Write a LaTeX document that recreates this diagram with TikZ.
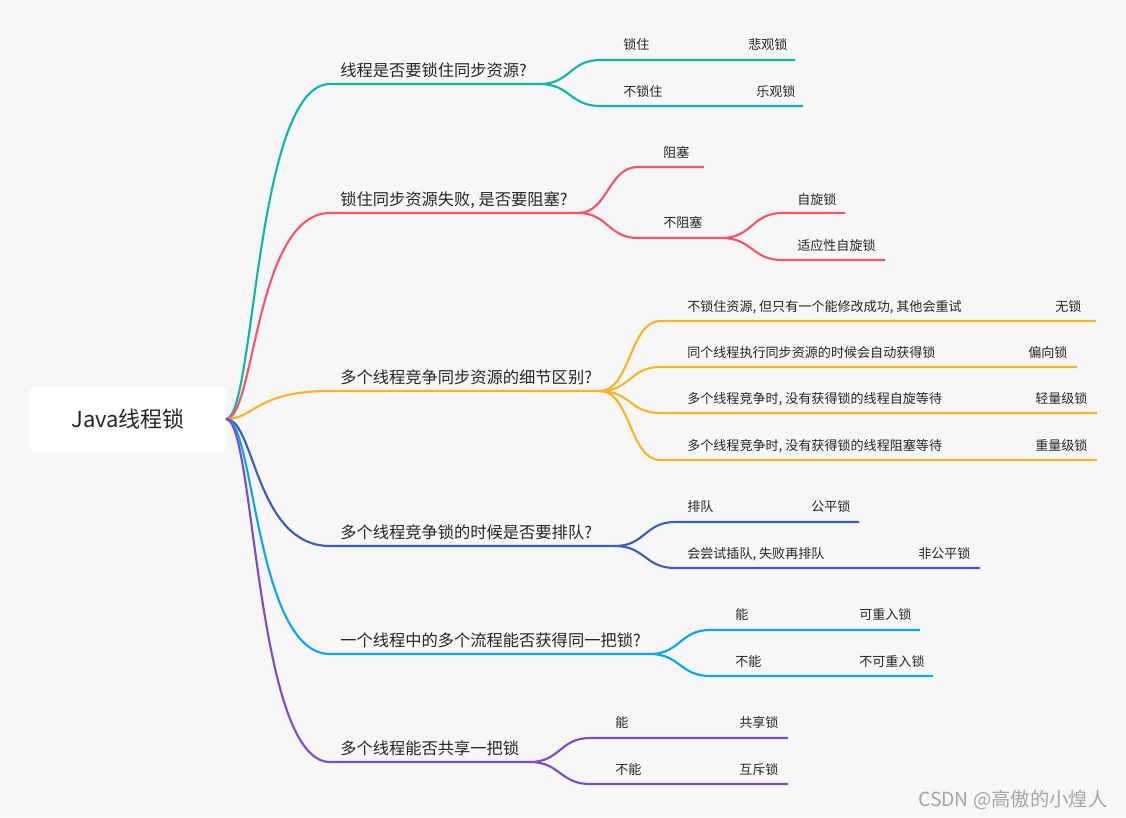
\documentclass[tikz,border=0pt]{standalone}
\usepackage{fontspec}
\setmainfont{Noto Sans CJK SC}
\begin{document}
\begin{tikzpicture}[x=0.75pt,y=-0.75pt,
  br/.style={line width=1.6pt},
  mt/.style={anchor=base west,font=\fontsize{12.2}{14}\selectfont,text=black!85,inner sep=0},
  st/.style={anchor=base west,font=\fontsize{9.8}{11}\selectfont,text=black!85,inner sep=0}]
\definecolor{bg}{HTML}{F7F7F7}
\definecolor{cA}{HTML}{13B5A7}
\definecolor{cB}{HTML}{F2566B}
\definecolor{cC}{HTML}{F8B52A}
\definecolor{cD}{HTML}{3F5CBF}
\definecolor{cE}{HTML}{0AA7EC}
\definecolor{cF}{HTML}{7B4FC8}
\fill[bg] (0,0) rectangle (1126,817);
\useasboundingbox (0,0) rectangle (1126,817);
\node[fill=white,rounded corners=4pt,minimum width=147pt,minimum height=49pt,font=\fontsize{16.5}{18}\selectfont,text=black!85] (root) at (128,419) {Java线程锁};
\coordinate (r) at (226,419);
\newcommand\mainbr[5]{%
  \coordinate (#5s) at (330,#2); \coordinate (#5e) at (#3,#2);
  \draw[br,#1] (r) .. controls (255,419) and (255,#2) .. (#5s) -- (#5e);
  \node[mt] (#5t) at (340,#2-8) {#4};}
\newcommand\subbr[6]{%
  \coordinate (#6a) at (#2,#3); \coordinate (#6b) at (#2+60,#4); \coordinate (#6c) at (#5,#4);
  \draw[br,#1] (#6a) .. controls (#2+30,#3) and (#2+30,#4) .. (#6b) -- (#6c);}
\mainbr{cA}{84}{540}{线程是否要锁住同步资源?}{m1}
\mainbr{cB}{213}{578}{锁住同步资源失败, 是否要阻塞?}{m2}
\mainbr{cC}{391}{600}{多个线程竞争同步资源的细节区别?}{m3}
\mainbr{cD}{546}{615}{多个线程竞争锁的时候是否要排队?}{m4}
\mainbr{cE}{654}{650}{一个线程中的多个流程能否获得同一把锁?}{m5}
\mainbr{cF}{762}{530}{多个线程能否共享一把锁}{m6}
\subbr{cA}{540}{84}{60}{795}{s11}
\subbr{cA}{540}{84}{106}{803}{s12}
\node[st] (t11) at (623,50) {锁住}; \node[st] (u11) at (748,50) {悲观锁};
\node[st] (t12) at (623,96) {不锁住}; \node[st] (u12) at (756,96) {乐观锁};
\subbr{cB}{578}{213}{167}{704}{s21}
\subbr{cB}{578}{213}{238}{722}{s22}
\node[st] (t21) at (663,157) {阻塞}; \node[st] (t22) at (663,227) {不阻塞};
\subbr{cB}{722}{238}{213}{845}{s23}
\subbr{cB}{722}{238}{260}{885}{s24}
\node[st] (t23) at (797,204) {自旋锁}; \node[st] (t24) at (797,250) {适应性自旋锁};
\subbr{cC}{600}{391}{321}{1096}{s31}
\subbr{cC}{600}{391}{367}{1077}{s32}
\subbr{cC}{600}{391}{413}{1097}{s33}
\subbr{cC}{600}{391}{460}{1097}{s34}
\node[st] (t31) at (687,311) {不锁住资源, 但只有一个能修改成功, 其他会重试}; \node[st] (u31) at (1055,311) {无锁};
\node[st] (t32) at (687,357) {同个线程执行同步资源的时候会自动获得锁}; \node[st] (u32) at (1028,357) {偏向锁};
\node[st] (t33) at (687,403) {多个线程竞争时, 没有获得锁的线程自旋等待}; \node[st] (u33) at (1035,403) {轻量级锁};
\node[st] (t34) at (687,450) {多个线程竞争时, 没有获得锁的线程阻塞等待}; \node[st] (u34) at (1035,450) {重量级锁};
\subbr{cD}{615}{546}{522}{859}{s41}
\subbr{cD}{615}{546}{568}{980}{s42}
\node[st] (t41) at (687,511) {排队}; \node[st] (u41) at (811,511) {公平锁};
\node[st] (t42) at (687,558) {会尝试插队, 失败再排队}; \node[st] (u42) at (918,558) {非公平锁};
\subbr{cE}{650}{654}{630}{920}{s51}
\subbr{cE}{650}{654}{676}{933}{s52}
\node[st] (t51) at (735,619) {能}; \node[st] (u51) at (859,619) {可重入锁};
\node[st] (t52) at (735,666) {不能}; \node[st] (u52) at (859,666) {不可重入锁};
\subbr{cF}{530}{762}{738}{788}{s61}
\subbr{cF}{530}{762}{784}{788}{s62}
\node[st] (t61) at (615,727) {能}; \node[st] (u61) at (739,727) {共享锁};
\node[st] (t62) at (615,774) {不能}; \node[st] (u62) at (739,774) {互斥锁};
\node[anchor=base west,inner sep=0,font=\fontsize{14.5}{16}\selectfont,text=black!35] (wm) at (918,806) {CSDN @高傲的小煌人};
\end{tikzpicture}
\end{document}
